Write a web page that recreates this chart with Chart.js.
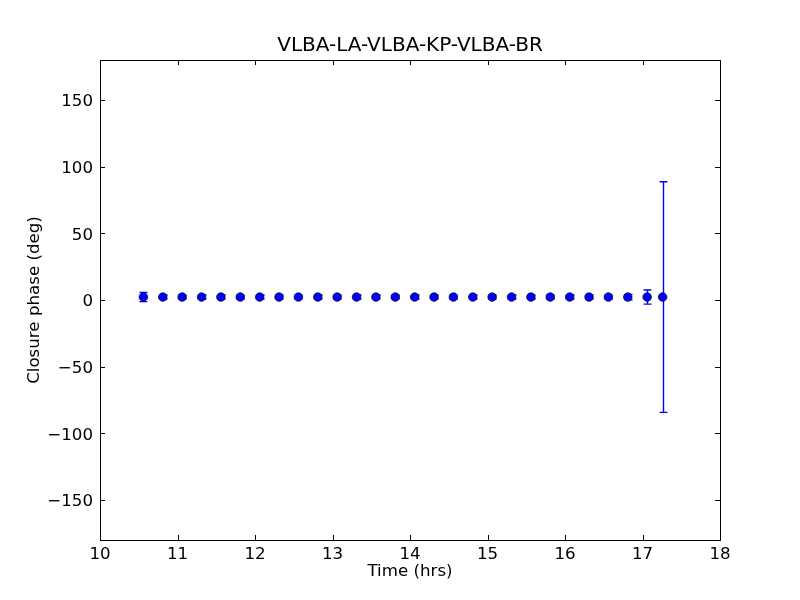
<!DOCTYPE html>
<html>
<head>
<meta charset="utf-8">
<script src="https://cdn.jsdelivr.net/npm/chart.js@4/dist/chart.umd.min.js"></script>
<style>
  html, body { margin: 0; padding: 0; background: #ffffff; }
  #wrap { width: 800px; height: 600px; }
</style>
</head>
<body>
<div id="wrap"><canvas id="c" width="800" height="600"></canvas></div>
<script>
// ---- data ----
const chartTitle = "VLBA-LA-VLBA-KP-VLBA-BR";
const xLabel = "Time (hrs)";
const yLabel = "Closure phase (deg)";
const times = [10.56, 10.81, 11.06, 11.31, 11.56, 11.81, 12.06, 12.31, 12.56, 12.81,
               13.06, 13.31, 13.56, 13.81, 14.06, 14.31, 14.56, 14.81, 15.06, 15.31,
               15.56, 15.81, 16.06, 16.31, 16.56, 16.81, 17.06, 17.26];
const phases = [2.2, 2.2, 2.2, 2.2, 2.2, 2.2, 2.2, 2.2, 2.2, 2.2,
                2.2, 2.2, 2.2, 2.2, 2.2, 2.2, 2.2, 2.2, 2.2, 2.2,
                2.2, 2.2, 2.2, 2.2, 2.2, 2.2, 2.2, 2.2];
const errors = [3.4, 1.5, 1.5, 1.5, 1.5, 1.5, 1.5, 1.5, 1.5, 1.5,
                1.5, 1.5, 1.5, 1.5, 1.5, 1.5, 1.5, 1.5, 1.5, 1.5,
                1.5, 1.5, 1.5, 1.5, 1.5, 2.0, 5.3, 86.5];
const xTicks = [10, 11, 12, 13, 14, 15, 16, 17, 18];
const yTicks = [-150, -100, -50, 0, 50, 100, 150];
const xRange = [10, 18];
const yRange = [-180, 180];

const FONT = "'DejaVu Sans', sans-serif";
const points = times.map((t, i) => ({ x: t, y: phases[i] }));

const errorBarPlugin = {
  id: 'errorBars',
  beforeDatasetsDraw(chart) {
    const ctx = chart.ctx;
    const xs = chart.scales.x, ys = chart.scales.y;
    ctx.save();
    ctx.strokeStyle = '#0000ff';
    ctx.lineWidth = 1.4;
    const cap = 4;
    times.forEach((t, i) => {
      const px = Math.round(xs.getPixelForValue(t)) + 0.5;
      const yTop = ys.getPixelForValue(phases[i] + errors[i]);
      const yBot = ys.getPixelForValue(phases[i] - errors[i]);
      ctx.beginPath();
      ctx.moveTo(px, yTop); ctx.lineTo(px, yBot);
      ctx.moveTo(px - cap, yTop); ctx.lineTo(px + cap, yTop);
      ctx.moveTo(px - cap, yBot); ctx.lineTo(px + cap, yBot);
      ctx.stroke();
    });
    ctx.restore();
  }
};

const framePlugin = {
  id: 'frame',
  afterDraw(chart) {
    const ctx = chart.ctx;
    const a = chart.chartArea;
    const xs = chart.scales.x, ys = chart.scales.y;
    const tl = 5;
    ctx.save();
    ctx.strokeStyle = '#000000';
    ctx.lineWidth = 1;
    ctx.beginPath();
    xTicks.forEach(v => {
      const px = Math.round(xs.getPixelForValue(v)) + 0.5;
      ctx.moveTo(px, a.bottom); ctx.lineTo(px, a.bottom - tl);
      ctx.moveTo(px, a.top); ctx.lineTo(px, a.top + tl);
    });
    yTicks.forEach(v => {
      const py = Math.round(ys.getPixelForValue(v)) + 0.5;
      ctx.moveTo(a.left, py); ctx.lineTo(a.left + tl, py);
      ctx.moveTo(a.right, py); ctx.lineTo(a.right - tl, py);
    });
    ctx.stroke();
    ctx.strokeRect(Math.round(a.left) + 0.5, Math.round(a.top) + 0.5,
                   Math.round(a.right - a.left), Math.round(a.bottom - a.top));
    ctx.restore();
  }
};

new Chart(document.getElementById('c'), {
  type: 'scatter',
  data: {
    datasets: [{
      data: points,
      showLine: false,
      pointStyle: 'circle',
      pointRadius: 4.3,
      pointHoverRadius: 4.3,
      backgroundColor: '#0000ff',
      borderColor: '#000000',
      borderWidth: 0.7
    }]
  },
  options: {
    responsive: false,
    devicePixelRatio: 1,
    animation: false,
    events: [],
    layout: { padding: { left: 0, right: 80, top: 0, bottom: 0 } },
    plugins: {
      legend: { display: false },
      tooltip: { enabled: false },
      title: {
        display: true,
        text: chartTitle,
        fullSize: false,
        color: '#000000',
        font: { family: FONT, size: 20, weight: 'normal', lineHeight: 1.2 },
        padding: { top: 34, bottom: 2 }
      }
    },
    scales: {
      x: {
        type: 'linear',
        min: xRange[0], max: xRange[1],
        afterBuildTicks(s) { s.ticks = xTicks.map(v => ({ value: v })); },
        afterFit(s) { s.height = 60; },
        grid: { display: false, drawTicks: false },
        border: { display: false },
        ticks: {
          color: '#000000', padding: 5, maxRotation: 0, autoSkip: false,
          font: { family: FONT, size: 16.67 },
          callback: v => String(v)
        },
        title: {
          display: true, text: xLabel, color: '#000000',
          font: { family: FONT, size: 16.67, lineHeight: 1.2 },
          padding: { top: 0, bottom: 18 }
        }
      },
      y: {
        type: 'linear',
        min: yRange[0], max: yRange[1],
        afterBuildTicks(s) { s.ticks = yTicks.map(v => ({ value: v })); },
        afterFit(s) { s.width = 100; },
        grid: { display: false, drawTicks: false },
        border: { display: false },
        ticks: {
          color: '#000000', padding: 7, autoSkip: false, labelOffset: 2,
          font: { family: FONT, size: 16.67 },
          callback: v => (v < 0 ? '\u2212' + Math.abs(v) : String(v))
        },
        title: {
          display: true, text: yLabel, color: '#000000',
          font: { family: FONT, size: 16.67, lineHeight: 1.2 },
          padding: { top: 25, bottom: 0 }
        }
      }
    }
  },
  plugins: [errorBarPlugin, framePlugin]
});
</script>
</body>
</html>
